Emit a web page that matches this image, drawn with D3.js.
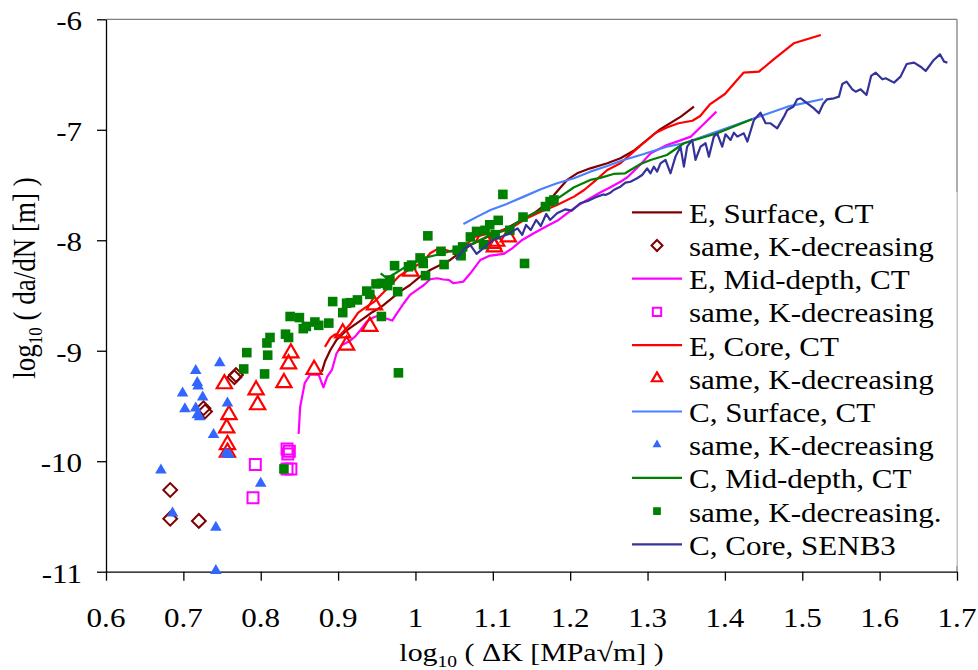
<!DOCTYPE html>
<html>
<head>
<meta charset="utf-8">
<script src="https://cdn.jsdelivr.net/npm/d3@7"></script>
<style>
  body { margin: 0; background: #fff; }
  text { font-family: "Liberation Serif", "Times New Roman", serif; fill: #000; }
</style>
</head>
<body>
<svg id="chart" width="978" height="670"></svg>
<script>
// ---- data (log10 dK, log10 da/dN) ----
const xTicks = [0.6, 0.7, 0.8, 0.9, 1, 1.1, 1.2, 1.3, 1.4, 1.5, 1.6, 1.7];
const yTicks = [-6, -7, -8, -9, -10, -11];

const eSurfLine = [[0.879,-9.189],[0.883,-9.098],[0.890,-8.993],[0.898,-8.902],[0.909,-8.827],[0.918,-8.782],[0.929,-8.727],[0.942,-8.661],[0.955,-8.607],[0.967,-8.540],[0.980,-8.465],[0.993,-8.405],[1.006,-8.329],[1.019,-8.269],[1.032,-8.224],[1.045,-8.178],[1.056,-8.118],[1.071,-8.043],[1.090,-7.98],[1.118,-7.892],[1.153,-7.756],[1.170,-7.665],[1.181,-7.575],[1.196,-7.454],[1.209,-7.394],[1.226,-7.349],[1.248,-7.303],[1.265,-7.258],[1.282,-7.190],[1.315,-7.002],[1.343,-6.881],[1.360,-6.791]];
const eSurfDec = [[0.768,-9.22],[0.766,-9.24],[0.726,-9.52],[0.728,-9.55],[0.683,-10.26],[0.683,-10.52],[0.720,-10.54]];

const eMidLine = [[0.849,-9.753],[0.851,-9.506],[0.857,-9.29],[0.864,-9.215],[0.875,-9.219],[0.881,-9.331],[0.886,-9.234],[0.892,-9.174],[0.898,-9.023],[0.905,-8.948],[0.914,-8.917],[0.922,-8.872],[0.929,-8.812],[0.937,-8.736],[0.946,-8.697],[0.955,-8.676],[0.961,-8.706],[0.970,-8.727],[0.976,-8.661],[0.985,-8.570],[0.993,-8.495],[1.002,-8.450],[1.011,-8.405],[1.019,-8.353],[1.028,-8.344],[1.036,-8.355],[1.043,-8.359],[1.049,-8.389],[1.062,-8.374],[1.071,-8.299],[1.084,-8.178],[1.095,-8.142],[1.114,-8.124],[1.125,-8.073],[1.138,-7.997],[1.153,-7.937],[1.170,-7.871],[1.185,-7.816],[1.196,-7.756],[1.211,-7.681],[1.222,-7.635],[1.237,-7.575],[1.252,-7.52],[1.265,-7.47],[1.274,-7.43],[1.290,-7.32],[1.304,-7.213],[1.325,-7.138],[1.338,-7.107],[1.356,-7.062],[1.369,-6.972],[1.389,-6.836]];
const eMidDec = [[0.793,-10.03],[0.790,-10.33],[0.834,-9.89],[0.837,-9.91],[0.835,-9.935],[0.834,-10.07],[0.839,-10.07]];

const eCoreLine = [[0.883,-8.965],[0.890,-8.883],[0.896,-8.852],[0.902,-8.862],[0.915,-8.765],[0.926,-8.655],[0.936,-8.605],[0.947,-8.555],[0.956,-8.49],[0.966,-8.42],[0.978,-8.33],[0.986,-8.29],[0.998,-8.242],[1.010,-8.195],[1.019,-8.118],[1.027,-8.085],[1.037,-8.085],[1.046,-8.103],[1.056,-8.08],[1.066,-8.043],[1.075,-7.973],[1.097,-7.937],[1.123,-7.892],[1.144,-7.801],[1.162,-7.741],[1.183,-7.68],[1.205,-7.605],[1.218,-7.545],[1.231,-7.469],[1.248,-7.364],[1.265,-7.303],[1.282,-7.198],[1.295,-7.12],[1.310,-7.03],[1.325,-6.98],[1.340,-6.941],[1.358,-6.918],[1.368,-6.875],[1.381,-6.767],[1.400,-6.676],[1.424,-6.483],[1.444,-6.474],[1.463,-6.362],[1.489,-6.217],[1.524,-6.142]];
const eCoreDec = [[0.839,-9.02],[0.836,-9.12],[0.830,-9.29],[0.869,-9.17],[0.753,-9.30],[0.794,-9.355],[0.796,-9.49],[0.759,-9.58],[0.756,-9.70],[0.757,-9.85],[0.757,-9.92],[0.906,-8.84],[0.911,-8.95],[0.941,-8.78],[0.947,-8.585],[0.994,-8.28],[1.088,-7.97],[1.100,-8.03],[1.102,-8.06],[1.105,-8.01],[1.120,-7.97]];

const cSurfLine = [[1.062,-7.853],[1.080,-7.786],[1.097,-7.726],[1.118,-7.671],[1.140,-7.605],[1.162,-7.539],[1.183,-7.484],[1.205,-7.439],[1.226,-7.379],[1.248,-7.328],[1.269,-7.273],[1.291,-7.228],[1.325,-7.153],[1.347,-7.122],[1.390,-7.017],[1.438,-6.896],[1.481,-6.791],[1.527,-6.721]];
const cSurfDec = [[0.747,-9.11],[0.716,-9.18],[0.718,-9.29],[0.719,-9.32],[0.699,-9.385],[0.725,-9.42],[0.702,-9.527],[0.716,-9.52],[0.718,-9.58],[0.721,-9.60],[0.757,-9.475],[0.739,-9.76],[0.755,-9.93],[0.759,-9.94],[0.671,-10.08],[0.800,-10.20],[0.686,-10.47],[0.742,-10.60],[0.742,-10.99]];

const cMidLine = [[0.955,-8.299],[0.963,-8.344],[0.974,-8.299],[0.985,-8.25],[0.998,-8.202],[1.011,-8.16],[1.023,-8.14],[1.036,-8.118],[1.049,-8.09],[1.062,-8.058],[1.075,-8.027],[1.097,-7.952],[1.118,-7.907],[1.140,-7.801],[1.162,-7.726],[1.183,-7.625],[1.205,-7.52],[1.226,-7.454],[1.239,-7.435],[1.256,-7.40],[1.271,-7.394],[1.291,-7.31],[1.304,-7.273],[1.325,-7.228],[1.347,-7.122],[1.390,-7.032],[1.435,-6.905]];
const cMidDec = [[0.782,-9.017],[0.778,-9.165],[0.809,-9.04],[0.805,-9.21],[0.808,-8.93],[0.812,-8.88],[0.832,-8.85],[0.836,-8.88],[0.830,-10.07],[0.838,-8.69],[0.850,-8.70],[0.855,-8.80],[0.859,-8.78],[0.870,-8.74],[0.875,-8.77],[0.888,-8.75],[0.893,-8.555],[0.906,-8.655],[0.911,-8.57],[0.916,-8.565],[0.925,-8.54],[0.937,-8.46],[0.941,-8.49],[0.949,-8.395],[0.956,-8.39],[0.964,-8.41],[0.967,-8.36],[0.956,-8.69],[0.977,-8.465],[0.973,-8.23],[0.978,-9.20],[0.991,-8.24],[0.995,-8.225],[1.006,-8.16],[1.010,-8.21],[1.013,-8.32],[1.016,-7.96],[1.033,-8.10],[1.037,-8.22],[1.054,-8.09],[1.059,-8.14],[1.061,-8.06],[1.071,-7.97],[1.079,-7.92],[1.088,-8.04],[1.090,-7.91],[1.096,-7.86],[1.103,-7.95],[1.107,-7.82],[1.113,-7.585],[1.122,-7.91],[1.139,-7.79],[1.141,-8.21],[1.168,-7.695],[1.174,-7.65],[1.179,-7.635]];

const senbLine = [[1.052,-8.17],[1.056,-8.14],[1.064,-8.073],[1.071,-8.043],[1.079,-8.124],[1.086,-8.082],[1.093,-8.04],[1.100,-8.00],[1.110,-7.97],[1.118,-7.95],[1.125,-7.922],[1.132,-7.892],[1.138,-7.952],[1.143,-7.861],[1.149,-7.907],[1.156,-7.816],[1.162,-7.871],[1.169,-7.762],[1.174,-7.816],[1.183,-7.756],[1.194,-7.72],[1.202,-7.732],[1.213,-7.665],[1.224,-7.641],[1.235,-7.605],[1.243,-7.585],[1.2456,-7.590],[1.252,-7.569],[1.2563,-7.545],[1.2607,-7.530],[1.265,-7.515],[1.2714,-7.479],[1.2779,-7.470],[1.2822,-7.454],[1.2865,-7.439],[1.293,-7.409],[1.2995,-7.349],[1.3038,-7.394],[1.3081,-7.334],[1.3124,-7.379],[1.3167,-7.304],[1.3232,-7.273],[1.3297,-7.394],[1.3361,-7.243],[1.3426,-7.153],[1.347,-7.334],[1.3512,-7.153],[1.3577,-7.092],[1.362,-7.273],[1.3685,-7.153],[1.375,-7.122],[1.3793,-7.243],[1.3857,-7.062],[1.390,-7.032],[1.3965,-7.153],[1.4008,-7.041],[1.4073,-7.092],[1.4116,-7.026],[1.416,-7.062],[1.4245,-7.032],[1.429,-7.107],[1.4375,-6.911],[1.446,-6.845],[1.4526,-6.941],[1.459,-6.941],[1.4676,-6.987],[1.4763,-6.881],[1.4806,-6.821],[1.4884,-6.791],[1.4935,-6.724],[1.498,-6.715],[1.5065,-6.760],[1.515,-6.806],[1.5215,-6.851],[1.527,-6.767],[1.532,-6.724],[1.541,-6.715],[1.5474,-6.700],[1.5517,-6.586],[1.5573,-6.564],[1.5647,-6.634],[1.569,-6.655],[1.5755,-6.634],[1.583,-6.685],[1.589,-6.513],[1.595,-6.483],[1.6035,-6.543],[1.6078,-6.534],[1.6186,-6.573],[1.627,-6.519],[1.635,-6.405],[1.6445,-6.392],[1.653,-6.429],[1.6595,-6.468],[1.670,-6.368],[1.678,-6.317],[1.6833,-6.383],[1.6876,-6.392]];

const legendLabels = ["E, Surface, CT", "same, K-decreasing", "E, Mid-depth, CT", "same, K-decreasing",
  "E, Core, CT", "same, K-decreasing", "C, Surface, CT", "same, K-decreasing",
  "C, Mid-depth, CT", "same, K-decreasing.", "C, Core, SENB3"];

// ---- drawing ----
const SX = 1.15; // lettering in the source is a little wide
const svg = d3.select("#chart");

const x = d3.scaleLinear().domain([0.6, 1.7]).range([106, 957]);
const y = d3.scaleLinear().domain([-11, -6]).range([571.7, 19.3]);

function label(sel, px, py, s, anchor, size) {
  return sel.append("text")
    .attr("transform", `translate(${px},${py}) scale(${SX},1)`)
    .attr("text-anchor", anchor)
    .attr("font-size", size)
    .text(s);
}

// frame
svg.append("line").attr("x1", x(0.6)).attr("x2", x(1.7)).attr("y1", y(-6)).attr("y2", y(-6))
  .attr("stroke", "#808080").attr("stroke-width", 1.3);
svg.append("line").attr("x1", x(1.7)).attr("x2", x(1.7)).attr("y1", y(-6)).attr("y2", y(-11))
  .attr("stroke", "#808080").attr("stroke-width", 1.3);

// axes
svg.append("g")
  .attr("transform", `translate(0,${y(-11)})`)
  .call(d3.axisBottom(x).tickValues(xTicks).tickSize(9).tickSizeOuter(0).tickFormat(""))
  .call(g => g.selectAll("path,line").attr("stroke", "#000").attr("stroke-width", 1.3));

svg.append("g")
  .attr("transform", `translate(${x(0.6)},0)`)
  .call(d3.axisLeft(y).tickValues(yTicks).tickSize(9).tickSizeOuter(0).tickFormat(""))
  .call(g => g.selectAll("path,line").attr("stroke", "#000").attr("stroke-width", 1.3));

xTicks.forEach(t => label(svg, x(t), 627, d3.format("")(t), "middle", 27));
yTicks.forEach(t => label(svg, 82, y(t) + 11, String(t), "end", 27));

// axis titles
const xt = svg.append("text")
  .attr("transform", `translate(${(x(0.6) + x(1.7)) / 2},661) scale(${SX},1)`)
  .attr("text-anchor", "middle").attr("font-size", 26);
xt.append("tspan").text("log");
xt.append("tspan").attr("font-size", 17).attr("dy", 6).text("10");
xt.append("tspan").attr("dy", -6).text(" ( \u0394K [MPa\u221Am] )");

const yt = svg.append("text")
  .attr("transform", `translate(35,278) scale(${SX},1) rotate(-90)`)
  .attr("text-anchor", "middle").attr("font-size", 27);
yt.append("tspan").text("log");
yt.append("tspan").attr("font-size", 17).attr("dy", 6).text("10");
yt.append("tspan").attr("dy", -6).text(" ( da/dN [m] )");

// series
const line = d3.line().x(d => x(d[0])).y(d => y(d[1]));
const plot = svg.append("g");

const square = d3.symbol().type(d3.symbolSquare);
const tri = d3.symbol().type(d3.symbolTriangle);

function drawLine(data, color) {
  plot.append("path").datum(data).attr("d", line)
    .attr("fill", "none").attr("stroke", color).attr("stroke-width", 2.2)
    .attr("stroke-linejoin", "round");
}
function drawMarks(data, gen, size, style, rot) {
  plot.append("g").selectAll("path").data(data).join("path")
    .attr("d", gen.size(size)())
    .attr("transform", d => `translate(${x(d[0])},${y(d[1])}) rotate(${rot || 0})`)
    .attr("fill", style.fill).attr("stroke", style.stroke || "none")
    .attr("stroke-width", style.sw || 0);
}

const series = [
  { kind: "line", color: "#800000", data: eSurfLine },
  { kind: "mark", data: eSurfDec, gen: square, size: 95, legendSize: 60, rot: 45, style: { fill: "none", stroke: "#800000", sw: 2 } },
  { kind: "line", color: "#FF00FF", data: eMidLine },
  { kind: "mark", data: eMidDec, gen: square, size: 120, legendSize: 70, rot: 0, style: { fill: "none", stroke: "#FF00FF", sw: 2 } },
  { kind: "line", color: "#FF0000", data: eCoreLine },
  { kind: "mark", data: eCoreDec, gen: tri, size: 100, legendSize: 45, rot: 0, style: { fill: "none", stroke: "#FF0000", sw: 2.2 } },
  { kind: "line", color: "#4A80FF", data: cSurfLine },
  { kind: "mark", data: cSurfDec, gen: tri, size: 58, legendSize: 34, rot: 0, style: { fill: "#3366FF" } },
  { kind: "line", color: "#008000", data: cMidLine },
  { kind: "mark", data: cMidDec, gen: square, size: 92, legendSize: 60, rot: 0, style: { fill: "#008000" } },
  { kind: "line", color: "#333399", data: senbLine }
];

series.forEach(s => {
  if (s.kind === "line") drawLine(s.data, s.color);
  else drawMarks(s.data, s.gen, s.size, s.style, s.rot);
});

// legend
const lg = svg.append("g");
lg.append("rect").attr("x", 626).attr("y", 192).attr("width", x(1.7) - 626).attr("height", 374)
  .attr("fill", "#fff");
lg.append("line").attr("x1", x(1.7)).attr("x2", x(1.7)).attr("y1", 192).attr("y2", 566)
  .attr("stroke", "#d0d0d0").attr("stroke-width", 1.3);

series.forEach((s, i) => {
  const cy = 212.3 + i * 33.2;
  if (s.kind === "line") {
    lg.append("line").attr("x1", 632).attr("x2", 682).attr("y1", cy).attr("y2", cy)
      .attr("stroke", s.color).attr("stroke-width", 2.2);
  } else {
    lg.append("path").attr("d", s.gen.size(s.legendSize)())
      .attr("transform", `translate(657,${cy}) rotate(${s.rot})`)
      .attr("fill", s.style.fill).attr("stroke", s.style.stroke || "none")
      .attr("stroke-width", s.style.sw || 0);
  }
  label(lg, 689, cy + 10.5, legendLabels[i], "start", 27);
});
</script>
</body>
</html>
